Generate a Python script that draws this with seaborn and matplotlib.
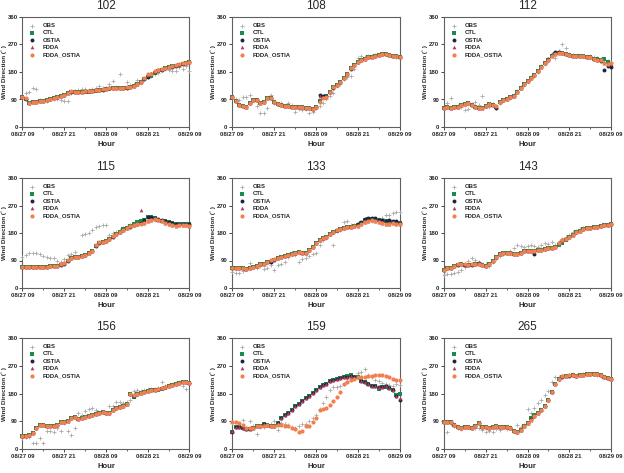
import numpy as np
import matplotlib
matplotlib.use("Agg")
import matplotlib.pyplot as plt
import seaborn as sns

sns.set_style("ticks")
plt.rcParams['font.family'] = ['Liberation Sans', 'DejaVu Sans']

N = np.nan
hours = list(range(49))
tick_hours = [0, 12, 24, 36, 48]
tick_labels = ["08/27 09", "08/27 21", "08/28 09", "08/28 21", "08/29 09"]
stations = ["102", "108", "112", "115", "133", "143", "156", "159", "265"]

# ---- 102
obs_102 = [97, 110, 115, 129, 124, 88, 86, 85, 90, 93, 90, 88, 86, 86, 110, 118, 120, 123, 123, 120, 125, 128, 135, 128, 126, 140, 149, 130, 174, 128, 147, 136, 140, 153, 150, 158, 165, 168, 172, 178, 185, 190, 188, 183, 183, 196, 189, 200, 184]
ctl_102 = [98, 93, 80, 82, 83, 85, 86, 89, 92, 95, 99, 102, 106, 110, 116, 115, 114, 114, 116, 116, 117, 119, 120, 122, 124, 125, 126, 127, 127, 128, 129, 132, 135, 140, 148, 157, 162, 168, 176, 184, 188, 192, 195, 198, 201, 204, 207, 211, 214]
ostia_102 = [98, 93, 80, 82, 83, 85, 86, 89, 92, 95, 99, 102, 106, 110, 116, 116, 115, 115, 117, 117, 118, 120, 121, 122, 124, 126, 127, 127, 127, 128, 129, 132, 135, 140, 148, 158, 165, 172, 180, 185, 188, 192, 195, 197, 201, 204, 207, 211, 214]
fdda_102 = [99, 94, 80, 81, 83, 84, 86, 88, 92, 96, 99, 103, 106, 110, 117, 116, 115, 116, 117, 118, 118, 120, 121, 123, 125, 126, 127, 128, 127, 128, 130, 132, 135, 140, 148, 160, 170, 176, 182, 186, 190, 194, 196, 199, 202, 205, 208, 211, 214]
fo_102 = [99, 94, 80, 81, 83, 84, 86, 88, 92, 96, 99, 103, 106, 110, 117, 116, 115, 116, 117, 118, 118, 120, 121, 123, 125, 126, 127, 128, 127, 128, 130, 132, 135, 140, 148, 160, 172, 175, 182, 186, 190, 193, 196, 199, 202, 205, 208, 211, 214]

# ---- 108
obs_108 = [99, 93, 88, 99, 99, 104, 88, 68, 45, 47, 61, 104, 80, 75, 77, 70, 77, 72, 50, 60, 55, 60, 47, 48, 61, 70, 80, 91, 100, 110, 134, 140, 156, 165, 167, 190, 227, 232, 228, 232, 232, 235, 236, 238, 238, 235, 232, 230, 228]
ctl_108 = [99, 85, 72, 69, 64, 77, 88, 88, 77, 83, 96, 94, 83, 75, 72, 70, 68, 67, 66, 65, 64, 63, 63, 60, 64, 84, 95, 100, 115, 130, 137, 148, 159, 175, 192, 203, 213, 219, 224, 228, 230, 233, 235, 238, 240, 237, 233, 232, 230]
ostia_108 = [99, 85, 72, 69, 64, 77, 88, 88, 77, 83, 96, 94, 83, 75, 72, 70, 68, 67, 66, 65, 64, 63, 63, 60, 64, 104, 101, 100, 115, 128, 137, 146, 159, 175, 190, 203, 213, 219, 224, 228, 230, 233, 235, 238, 240, 236, 233, 231, 229]
fdda_108 = [99, 85, 72, 69, 64, 77, 88, 88, 77, 83, 96, 94, 83, 75, 72, 70, 68, 67, 66, 65, 64, 63, 63, 60, 64, 100, 98, 99, 115, 130, 137, 148, 159, 175, 192, 203, 213, 219, 224, 228, 230, 233, 235, 238, 240, 237, 233, 232, 230]
fo_108 = [99, 85, 72, 69, 64, 77, 88, 88, 77, 83, 96, 94, 83, 75, 72, 70, 68, 67, 66, 65, 64, 63, 63, 60, 64, 83, 94, 99, 115, 130, 137, 148, 159, 175, 192, 203, 213, 219, 224, 228, 230, 233, 235, 238, 240, 237, 233, 232, 230]

# ---- 112
obs_112 = [61, 77, 96, 66, 70, 65, 55, 58, 75, 83, 72, 101, 70, 66, 75, 61, 80, 88, 90, 95, 104, 118, 130, 138, 150, 162, 167, 180, 200, 205, 215, 240, 225, 250, 273, 257, 240, 235, 232, 233, 232, 230, 231, 228, 225, 222, 220, 215, 212]
ctl_112 = [62, 64, 63, 66, 67, 72, 75, 77, 72, 66, 61, 61, 69, 75, 72, 64, 83, 88, 92, 97, 102, 115, 128, 140, 150, 160, 170, 183, 195, 208, 220, 232, 240, 243, 242, 238, 235, 233, 232, 232, 231, 230, 228, 224, 222, 219, 222, 212, 205]
ostia_112 = [62, 64, 63, 66, 67, 72, 75, 77, 72, 66, 61, 61, 69, 75, 72, 61, 83, 88, 92, 97, 102, 115, 128, 140, 150, 160, 170, 183, 195, 208, 222, 234, 244, 246, 243, 238, 235, 233, 232, 232, 231, 230, 228, 222, 220, 215, 188, 200, 197]
fdda_112 = [61, 64, 63, 66, 66, 72, 75, 77, 72, 66, 61, 61, 69, 75, 72, 70, 83, 88, 92, 97, 102, 115, 128, 140, 150, 160, 170, 183, 195, 208, 220, 232, 240, 243, 242, 238, 235, 233, 232, 232, 231, 230, 228, 222, 220, 219, 210, 205, 210]
fo_112 = [61, 64, 63, 66, 66, 72, 75, 77, 72, 66, 61, 61, 69, 75, 72, 70, 83, 88, 92, 97, 102, 115, 128, 140, 150, 160, 170, 183, 195, 208, 220, 232, 240, 243, 242, 238, 235, 233, 232, 232, 231, 230, 228, 222, 220, 219, 210, 205, 210]

# ---- 115
obs_115 = [102, 108, 113, 116, 114, 111, 105, 100, 97, 97, 90, 86, 94, 108, 110, 119, N, 173, 177, 179, 190, 201, 204, 206, 206, 175, 180, 184, 190, 198, 200, 205, 207, 210, 212, 215, 218, 222, 224, 222, 220, 215, 210, 206, 205, 206, 207, 206, 205]
ctl_115 = [69, 69, 68, 68, 69, 69, 68, 70, 72, 72, 73, 76, 80, 90, 99, 102, 102, 104, 108, 115, 121, 138, 147, 150, 154, 160, 168, 176, 184, 192, 198, 204, 208, 215, 220, 224, 233, 232, 228, 224, 220, 218, 215, 212, 208, 210, 210, 210, 208]
ostia_115 = [69, 69, 68, 68, 69, 69, 68, 70, 72, 72, 73, 76, 80, 90, 99, 102, 102, 104, 108, 115, 121, 138, 147, 150, 154, 160, 168, 176, 184, 190, 196, 200, 206, 210, 214, 222, 233, 233, 230, 226, 222, 220, 217, 213, 210, 208, 210, 210, 208]
fdda_115 = [69, 69, 68, 68, 69, 69, 68, 70, 72, 72, 73, 77, 83, 91, 99, 102, 102, 104, 108, 115, 121, 140, 149, 150, 154, 162, 170, 177, 184, 190, 198, 204, 206, 208, 256, 214, 220, 223, 225, 222, 218, 214, 209, 205, 204, 205, 206, 206, 204]
fo_115 = [69, 69, 68, 68, 69, 69, 68, 70, 72, 72, 73, 77, 83, 91, 99, 102, 102, 104, 108, 115, 121, 140, 149, 150, 154, 162, 170, 177, 184, 190, 198, 204, 206, 208, 210, 214, 220, 223, 225, 222, 218, 214, 209, 205, 204, 205, 206, 206, 204]

# ---- 133
obs_133 = [53, 50, 50, 56, 62, 83, 70, 66, 72, 61, 64, 75, 59, 75, 80, 86, 100, 119, 108, 86, 94, 99, 105, 110, 113, 140, 157, 165, 176, 141, 185, 190, 217, 219, 205, 207, 208, 212, 215, 220, 218, 222, 225, 228, 239, 240, 245, 248, 250]
ctl_133 = [64, 64, 66, 64, 61, 64, 69, 72, 77, 79, 84, 86, 92, 99, 101, 105, 108, 111, 116, 119, 113, 115, 124, 135, 146, 157, 163, 168, 176, 184, 188, 192, 195, 199, 201, 203, 206, 214, 222, 226, 226, 224, 222, 220, 218, 216, 216, 214, 212]
ostia_133 = [64, 64, 66, 64, 61, 64, 69, 72, 77, 79, 84, 86, 92, 99, 101, 105, 108, 111, 116, 119, 113, 115, 124, 135, 146, 157, 165, 168, 176, 184, 190, 192, 195, 199, 201, 203, 208, 216, 225, 230, 230, 228, 224, 222, 220, 222, 220, 218, 214]
fdda_133 = [64, 64, 66, 64, 61, 64, 69, 72, 77, 79, 86, 91, 94, 99, 101, 105, 108, 111, 116, 119, 113, 115, 124, 135, 146, 157, 165, 168, 176, 184, 190, 192, 195, 199, 201, 203, 204, 210, 217, 220, 222, 219, 215, 212, 210, 210, 212, 210, 208]
fo_133 = [64, 64, 66, 64, 61, 64, 69, 72, 77, 79, 86, 91, 94, 99, 101, 105, 108, 111, 116, 119, 113, 115, 124, 135, 146, 157, 165, 168, 176, 184, 190, 192, 195, 199, 201, 203, 204, 210, 217, 220, 222, 219, 215, 212, 210, 210, 212, 210, 208]

# ---- 143
obs_143 = [44, 45, 46, 48, 52, 58, 70, 88, 99, 92, 85, 80, 78, 72, 86, 95, 105, 110, 115, 120, 130, 141, 138, 135, 137, 141, 138, 135, 140, 146, 145, 149, 140, 150, 160, 168, 175, 184, 188, 192, 195, 196, 198, 200, 201, 203, 205, 206, 208]
ctl_143 = [58, 64, 66, 73, 76, 78, 76, 74, 76, 77, 80, 76, 72, 78, 88, 100, 110, 113, 115, 113, 111, 112, 116, 120, 122, 120, 121, 124, 126, 129, 130, 132, 135, 142, 148, 158, 168, 175, 182, 188, 192, 195, 197, 199, 201, 203, 205, 207, 208]
ostia_143 = [58, 64, 66, 73, 76, 78, 76, 74, 76, 77, 82, 76, 72, 78, 88, 100, 110, 113, 115, 113, 111, 112, 116, 120, 122, 120, 110, 124, 126, 129, 130, 132, 135, 148, 157, 162, 168, 175, 182, 188, 192, 195, 197, 199, 201, 203, 205, 207, 208]
fdda_143 = [58, 64, 66, 73, 77, 80, 78, 75, 77, 78, 80, 76, 72, 78, 88, 100, 110, 113, 115, 113, 111, 112, 116, 120, 122, 120, 121, 124, 126, 129, 130, 132, 135, 148, 157, 162, 168, 175, 182, 188, 192, 195, 197, 199, 201, 203, 205, 207, 208]
fo_143 = [58, 64, 66, 73, 77, 80, 78, 75, 77, 78, 80, 76, 72, 78, 88, 100, 110, 113, 115, 113, 111, 112, 116, 120, 122, 120, 121, 124, 126, 129, 130, 132, 135, 148, 157, 162, 168, 175, 182, 188, 192, 195, 197, 199, 201, 203, 205, 207, 208]

# ---- 156
obs_156 = [35, 40, 38, 18, 21, 35, 18, 60, 60, 54, 67, 59, 84, 59, 46, 67, 118, 110, 124, 129, 133, 125, 118, 120, 116, 140, 140, 151, 154, 148, 152, 160, 187, 190, 189, 190, 194, 195, 196, 199, 218, 205, 207, 210, 215, 218, 205, 194, 214]
ctl_156 = [42, 42, 44, 51, 67, 78, 78, 76, 76, 76, 78, 86, 89, 92, 100, 103, 96, 99, 103, 107, 111, 113, 116, 121, 116, 118, 127, 132, 136, 138, 146, 178, 168, 179, 181, 184, 187, 190, 190, 192, 195, 199, 203, 206, 210, 214, 216, 216, 214]
ostia_156 = [42, 42, 44, 51, 67, 78, 78, 76, 76, 76, 78, 86, 89, 92, 100, 103, 96, 99, 103, 107, 111, 113, 116, 121, 116, 118, 127, 132, 136, 138, 146, 178, 172, 179, 181, 184, 187, 190, 192, 194, 197, 201, 203, 206, 210, 214, 216, 216, 214]
fdda_156 = [42, 42, 44, 51, 67, 78, 78, 76, 76, 76, 78, 86, 89, 92, 100, 103, 96, 99, 103, 107, 111, 113, 116, 121, 116, 118, 127, 132, 136, 138, 146, 178, 174, 179, 181, 184, 187, 190, 192, 194, 197, 201, 205, 208, 210, 214, 216, 216, 214]
fo_156 = [42, 42, 44, 51, 67, 78, 78, 76, 76, 76, 78, 86, 89, 92, 100, 103, 96, 99, 103, 107, 111, 113, 116, 121, 116, 118, 127, 132, 136, 138, 146, 178, 174, 179, 181, 184, 187, 190, 192, 194, 197, 201, 205, 208, 210, 214, 216, 216, 214]

# ---- 159
obs_159 = [85, 70, 75, 95, 65, 91, 75, 49, 70, 72, 78, 80, 91, 62, 85, 80, 78, 70, 68, 75, 80, 82, 90, 100, 111, 130, 150, 170, 190, 201, 201, 205, 212, 220, 230, 235, 246, 250, 259, 240, 235, 225, 220, 215, 210, 208, 205, 210, 208]
ctl_159 = [56, 70, 70, 67, 65, 65, 67, 73, 75, 80, 78, 76, 75, 84, 100, 109, 118, 127, 138, 146, 157, 165, 173, 181, 190, 201, 206, 211, 219, 224, 226, 230, 233, 236, 240, 234, 232, 221, 217, 211, 205, 203, 196, 200, 200, 197, 192, 175, 178]
ostia_159 = [56, 70, 70, 67, 65, 65, 67, 73, 75, 80, 78, 76, 75, 84, 100, 109, 118, 127, 138, 146, 157, 165, 173, 181, 190, 201, 206, 211, 219, 224, 226, 230, 233, 235, 238, 233, 232, 221, 217, 211, 205, 203, 201, 201, 203, 197, 192, 172, 159]
fdda_159 = [58, 70, 70, 67, 65, 66, 67, 73, 75, 80, 78, 76, 75, 84, 100, 109, 118, 127, 138, 146, 157, 165, 173, 181, 190, 201, 206, 211, 219, 224, 226, 230, 233, 235, 238, 233, 232, 221, 217, 211, 205, 203, 201, 201, 203, 197, 192, 172, 165]
fo_159 = [87, 89, 84, 78, 67, 69, 67, 73, 73, 76, 78, 76, 75, 78, 78, 73, 73, 67, 65, 56, 60, 76, 76, 89, 100, 125, 129, 132, 143, 157, 168, 184, 211, 217, 224, 228, 232, 233, 235, 238, 238, 239, 241, 241, 238, 233, 228, 224, 224]

# ---- 265
obs_265 = [86, 56, 80, 75, 68, 66, 72, 70, 70, 67, 68, 62, 56, 60, 56, 65, 62, 70, 66, 72, 60, 78, 70, 78, 129, 116, 132, 150, 160, 175, 187, 216, 235, 232, 236, 238, 240, 240, 238, 240, 242, 242, 243, 242, 240, 238, 232, 229, 226]
ctl_265 = [86, 89, 86, 78, 70, 68, 72, 71, 68, 75, 84, 72, 70, 68, 72, 73, 71, 70, 72, 68, 60, 56, 62, 73, 85, 100, 110, 116, 128, 140, 160, 185, 210, 228, 234, 236, 238, 239, 238, 240, 241, 242, 243, 244, 242, 239, 235, 230, 226]
ostia_265 = [86, 89, 86, 78, 70, 68, 72, 71, 68, 75, 84, 72, 70, 68, 72, 73, 71, 70, 72, 68, 60, 56, 62, 73, 85, 97, 108, 116, 128, 140, 160, 185, 210, 228, 234, 236, 238, 239, 238, 240, 241, 242, 243, 244, 242, 239, 235, 230, 226]
fdda_265 = [86, 89, 86, 78, 70, 68, 72, 71, 68, 75, 84, 72, 70, 68, 72, 73, 71, 70, 72, 68, 60, 56, 62, 73, 85, 95, 108, 116, 128, 140, 160, 185, 210, 228, 236, 238, 240, 239, 238, 240, 241, 242, 243, 244, 242, 239, 235, 230, 226]
fo_265 = [86, 89, 86, 78, 70, 68, 72, 71, 68, 75, 84, 72, 70, 68, 72, 73, 71, 70, 72, 68, 60, 56, 62, 73, 85, 95, 108, 116, 128, 140, 160, 185, 210, 228, 236, 238, 240, 239, 238, 240, 241, 242, 243, 244, 242, 239, 235, 230, 226]

panel_data = {
    "102": (obs_102, ctl_102, ostia_102, fdda_102, fo_102),
    "108": (obs_108, ctl_108, ostia_108, fdda_108, fo_108),
    "112": (obs_112, ctl_112, ostia_112, fdda_112, fo_112),
    "115": (obs_115, ctl_115, ostia_115, fdda_115, fo_115),
    "133": (obs_133, ctl_133, ostia_133, fdda_133, fo_133),
    "143": (obs_143, ctl_143, ostia_143, fdda_143, fo_143),
    "156": (obs_156, ctl_156, ostia_156, fdda_156, fo_156),
    "159": (obs_159, ctl_159, ostia_159, fdda_159, fo_159),
    "265": (obs_265, ctl_265, ostia_265, fdda_265, fo_265),
}

series_names = ["OBS", "CTL", "OSTIA", "FDDA", "FDDA_OSTIA"]
markers = ["+", "s", "o", "^", "o"]
colors = ["#a9a9a9", "#1b8a4c", "#1e2440", "#b5335c", "#f2804e"]
sizes = [10, 7, 8, 7, 9]

# axes boxes in pixels (left, top, right, bottom)
col_x = [(22.5, 189.5), (232, 400), (444, 611)]
row_y = [(17, 127), (178, 288), (338, 449)]
W, H = 624, 473

fig = plt.figure(figsize=(6.24, 4.73), dpi=100)

for i, st in enumerate(stations):
    r, c = divmod(i, 3)
    x0, x1 = col_x[c]
    y0, y1 = row_y[r]
    ax = fig.add_axes([x0 / W, 1 - y1 / H, (x1 - x0) / W, (y1 - y0) / H])
    for k, name in enumerate(series_names):
        vals = panel_data[st][k]
        kw = dict(marker=markers[k], color=colors[k], s=sizes[k], label=name,
                  ax=ax, clip_on=False, zorder=3 + k)
        if markers[k] == "+":
            kw["linewidth"] = 0.6
        else:
            kw["linewidth"] = 0
        sns.scatterplot(x=hours, y=vals, **kw)
    ax.set_xlim(0, 48)
    ax.set_ylim(0, 360)
    ax.set_yticks([0, 90, 180, 270, 360])
    ax.set_xticks(tick_hours)
    ax.set_xticks([6, 18, 30, 42], minor=True)
    ax.set_xticklabels(tick_labels)
    for lab in ax.get_xticklabels() + ax.get_yticklabels():
        lab.set_fontsize(4.3)
        lab.set_fontweight("bold")
    ax.tick_params(axis="both", which="major", length=2.5, width=0.6, pad=1)
    ax.tick_params(axis="x", which="minor", length=1.5, width=0.5)
    for sp in ax.spines.values():
        sp.set_color("#606060")
        sp.set_linewidth(0.8)
    ax.set_title(st, fontsize=8.5, pad=6)
    ax.set_xlabel("Hour", fontsize=5.5, fontweight="bold", labelpad=3)
    ax.set_ylabel("Wind Direction (\u02da )", fontsize=4.5, fontweight="bold", labelpad=0.5)
    ax.legend(loc="upper left", frameon=False, prop=dict(size=4.3, weight="bold"),
              handlelength=1.2, handletextpad=1.2, labelspacing=0.35,
              borderaxespad=0.6, markerscale=1.0)

fig.savefig("out.png", dpi=100)
